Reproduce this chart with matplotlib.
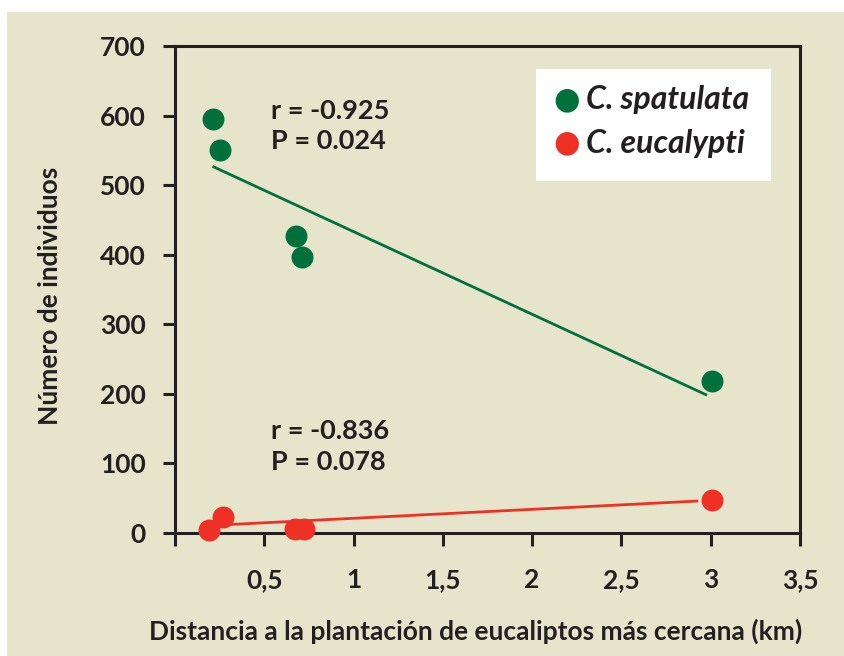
import matplotlib
matplotlib.use("Agg")
import matplotlib.pyplot as plt
from matplotlib.patches import Rectangle

# Data
spat_x = [0.21, 0.25, 0.68, 0.71, 3.01]
spat_y = [595, 550, 427, 397, 218]
euc_x = [0.19, 0.27, 0.67, 0.72, 3.01]
euc_y = [4, 23, 6, 6, 47]

# Regression line endpoints
spat_fit_x = [0.21, 2.98]
spat_fit_y = [527, 198]
euc_fit_x = [0.29, 2.93]
euc_fit_y = [12, 46]

x_ticks = [0, 0.5, 1, 1.5, 2, 2.5, 3, 3.5]
x_labels = ["", "0,5", "1", "1,5", "2", "2,5", "3", "3,5"]
y_ticks = [0, 100, 200, 300, 400, 500, 600, 700]

stats_spat = ["r = -0.925", "P = 0.024"]
stats_euc = ["r = -0.836", "P = 0.078"]
series_names = ["C. spatulata", "C. eucalypti"]

GREEN = "#00703c"
RED = "#ee3124"
BEIGE = "#e7e4cc"
DARK = "#231f20"

plt.rcParams["font.family"] = ["Lato", "DejaVu Sans"]

W, H = 844, 656
fig = plt.figure(figsize=(W / 100, H / 100), dpi=100, facecolor="white")
fig.patches.append(Rectangle((7 / W, 0), 1 - 7 / W, (H - 12) / H,
                             transform=fig.transFigure, facecolor=BEIGE,
                             edgecolor="none", zorder=-10))

left, right, top, bottom = 175, 800, 46, 533
ax = fig.add_axes([left / W, 1 - bottom / H, (right - left) / W, (bottom - top) / H])
ax.set_zorder(1)
ax.set_facecolor(BEIGE)
ax.set_xlim(0, 3.5)
ax.set_ylim(0, 700)

for s in ax.spines.values():
    s.set_color(DARK)
    s.set_linewidth(2.2)

ax.set_xticks(x_ticks)
ax.set_xticklabels(x_labels)
ax.set_yticks(y_ticks)
ax.tick_params(axis="both", direction="out", length=9, width=2.2, color=DARK,
               labelcolor=DARK, labelsize=19)
ax.tick_params(axis="x", pad=16)
ax.tick_params(axis="y", pad=12)
for lab in ax.get_xticklabels() + ax.get_yticklabels():
    lab.set_fontweight("bold")

ax.plot(spat_fit_x, spat_fit_y, color=GREEN, lw=2, zorder=2, solid_capstyle="butt")
ax.plot(euc_fit_x, euc_fit_y, color=RED, lw=2, zorder=2, solid_capstyle="butt")
ax.scatter(spat_x, spat_y, s=250, color=GREEN, zorder=3, linewidths=0, clip_on=False)
ax.scatter(euc_x, euc_y, s=250, color=RED, zorder=3, linewidths=0, clip_on=False)

for i, t in enumerate(stats_spat):
    ax.text(0.54, 607 - 44 * i, t, fontsize=19.5, fontweight="bold", color=DARK, va="center")
for i, t in enumerate(stats_euc):
    ax.text(0.54, 146 - 44 * i, t, fontsize=19.5, fontweight="bold", color=DARK, va="center")

# Legend box
fig.patches.append(Rectangle((536 / W, 1 - 181 / H), (771 - 536) / W, (181 - 69) / H,
                             transform=fig.transFigure, facecolor="white",
                             edgecolor="none", zorder=4))
fig.text(567 / W, 1 - 100 / H, "●", color=GREEN, fontsize=22, ha="center", va="center",
         family=["DejaVu Sans"], zorder=5)
fig.text(567 / W, 1 - 143 / H, "●", color=RED, fontsize=22, ha="center", va="center",
         family=["DejaVu Sans"], zorder=5)
fig.text(586 / W, 1 - 100 / H, series_names[0], color=DARK, fontsize=23, style="italic",
         fontweight="bold", va="center", zorder=5)
fig.text(586 / W, 1 - 143 / H, series_names[1], color=DARK, fontsize=23, style="italic",
         fontweight="bold", va="center", zorder=5)

fig.text(476 / W, 1 - 631 / H, "Distancia a la plantación de eucaliptos más cercana (km)",
         fontsize=19, fontweight="bold", color=DARK, ha="center", va="center")
fig.text(50 / W, 1 - 296 / H, "Número de individuos", fontsize=19, fontweight="bold",
         color=DARK, ha="center", va="center", rotation=90)

fig.savefig("out.png", dpi=100, facecolor="white")
